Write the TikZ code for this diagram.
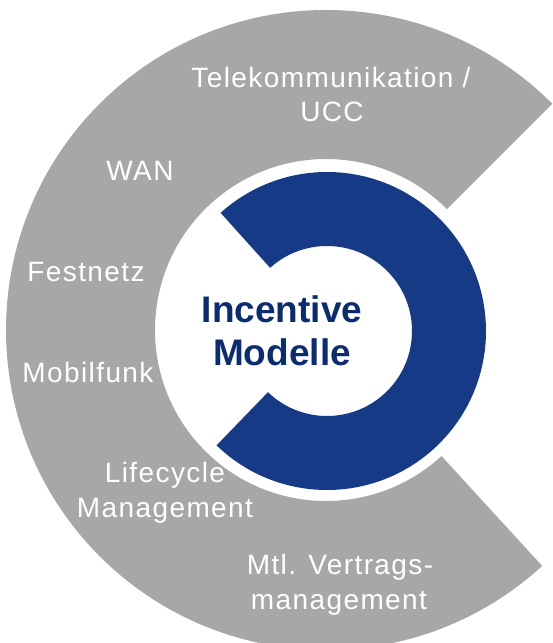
\documentclass[tikz,border=0pt]{standalone}
\usepackage{fontspec}
\setmainfont{Liberation Sans}
\newfontfamily\lblfont[LetterSpace=5]{Liberation Sans}
\usetikzlibrary{calc}
\definecolor{ringgray}{RGB}{166,167,169}
\definecolor{ringblue}{RGB}{22,58,133}
\definecolor{textblue}{RGB}{12,44,112}
\begin{document}
\begin{tikzpicture}[x=1pt,y=1pt,
  lbl/.style={text=white,font=\lblfont\fontsize{28}{33}\selectfont,anchor=base,inner sep=0pt},
  core/.style={text=textblue,font=\bfseries\fontsize{37}{43}\selectfont,anchor=base,inner sep=0pt}]
\useasboundingbox (0,0) rectangle (553,643);
\clip (0,0) rectangle (553,643);
\coordinate (C) at (326,313);
\coordinate (B) at (327,312);
% grey outer C
\fill[ringgray] ($(C)+(45:171pt)$) -- ($(C)+(45:320pt)$)
  arc[start angle=45,end angle=312.5,radius=320pt]
  -- ($(C)+(312.5:171pt)$)
  arc[start angle=312.5,end angle=45,radius=171pt] -- cycle;
% blue inner C
\fill[ringblue] ($(B)+(-134:85pt)$) -- ($(B)+(-134:159pt)$)
  arc[start angle=-134,end angle=132,radius=159pt]
  -- ($(B)+(132:85pt)$)
  arc[start angle=132,end angle=-134,radius=85pt] -- cycle;
% labels
\node[lbl] (tel1) at (331,555) {Telekommunikation /};
\node[lbl] (tel2) at (332,521) {UCC};
\node[lbl] (wan) at (140,462) {WAN};
\node[lbl] (fest) at (86,361) {Festnetz};
\node[lbl] (mob) at (88,260) {Mobilfunk};
\node[lbl] (life1) at (165,160) {Lifecycle};
\node[lbl] (life2) at (165,125) {Management};
\node[lbl] (mtl1) at (340,68) {Mtl. Vertrags-};
\node[lbl] (mtl2) at (339,33) {management};
\node[core] (inc1) at (282,320) {Incentive};
\node[core] (inc2) at (282,277) {Modelle};
\end{tikzpicture}
\end{document}
